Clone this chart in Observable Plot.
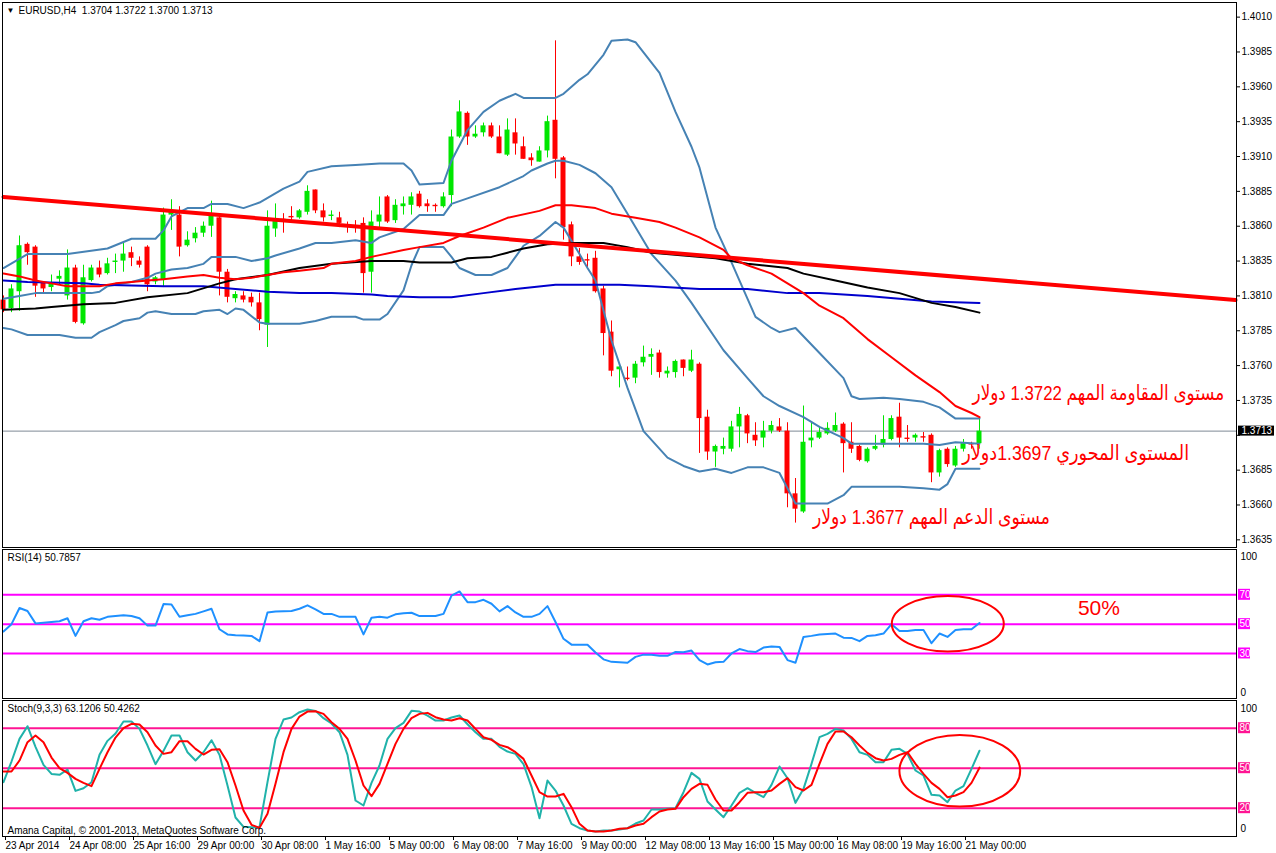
<!DOCTYPE html>
<html><head><meta charset="utf-8">
<script src="https://cdn.jsdelivr.net/npm/d3@7"></script>
<script src="https://cdn.jsdelivr.net/npm/@observablehq/plot@0.6"></script>
<style>
html,body{margin:0;padding:0;background:#fff;overflow:hidden;}
#chart{position:relative;width:1276px;height:853px;overflow:hidden;background:#fff;}
#chart svg{position:absolute;left:0;display:block;}
</style></head><body><div id="chart"></div>
<script>
// ---------- DATA ----------
const symbolTitle = "EURUSD,H4  1.3704 1.3722 1.3700 1.3713";
const opens = [1.3807,1.3801,1.3813,1.3847,1.3845,1.3819,1.3816,1.3822,1.3810,1.3830,1.3790,1.3821,1.3830,1.3826,1.3834,1.3835,1.3841,1.3835,1.3845,1.3820,1.3821,1.3868,1.3868,1.3846,1.3851,1.3855,1.3860,1.3866,1.3827,1.3808,1.3810,1.3809,1.3805,1.3789,1.3858,1.3865,1.3867,1.3866,1.3870,1.3886,1.3871,1.3867,1.3866,1.3861,1.3860,1.3862,1.3827,1.3863,1.3881,1.3864,1.3874,1.3875,1.3883,1.3876,1.3875,1.3874,1.3882,1.3924,1.3941,1.3924,1.3927,1.3932,1.3924,1.3911,1.3927,1.3917,1.3909,1.3906,1.3914,1.3936,1.3909,1.3861,1.3838,1.3836,1.3837,1.3815,1.3784,1.3757,1.3751,1.3751,1.3762,1.3766,1.3769,1.3754,1.3755,1.3764,1.3756,1.3761,1.3723,1.3698,1.3700,1.3700,1.3716,1.3724,1.3710,1.3708,1.3713,1.3716,1.3713,1.3668,1.3655,1.3706,1.3708,1.3711,1.3713,1.3718,1.3705,1.3702,1.3691,1.3700,1.3703,1.3707,1.3723,1.3708,1.3708,1.3709,1.3710,1.3683,1.3700,1.3688,1.3700,1.3704,1.3704];
const highs = [1.3810,1.3818,1.3853,1.3848,1.3846,1.3820,1.3825,1.3828,1.3843,1.3832,1.3832,1.3832,1.3835,1.3837,1.3840,1.3848,1.3845,1.3838,1.3846,1.3824,1.3873,1.3879,1.3874,1.3856,1.3859,1.3863,1.3878,1.3867,1.3829,1.3813,1.3813,1.3812,1.3812,1.3871,1.3876,1.3869,1.3874,1.3872,1.3889,1.3886,1.3876,1.3871,1.3870,1.3863,1.3864,1.3866,1.3871,1.3881,1.3882,1.3879,1.3881,1.3884,1.3885,1.3879,1.3876,1.3884,1.3929,1.3950,1.3942,1.3932,1.3934,1.3934,1.3932,1.3937,1.3937,1.3924,1.3912,1.3917,1.3939,1.3993,1.3910,1.3863,1.3844,1.3840,1.3842,1.3817,1.3792,1.3761,1.3759,1.3763,1.3774,1.3772,1.3771,1.3759,1.3764,1.3764,1.3771,1.3762,1.3728,1.3703,1.3708,1.3720,1.3730,1.3725,1.3719,1.3720,1.3720,1.3722,1.3719,1.3679,1.3731,1.3719,1.3716,1.3719,1.3726,1.3719,1.3719,1.3703,1.3701,1.3710,1.3724,1.3724,1.3733,1.3717,1.3711,1.3712,1.3711,1.3700,1.3701,1.3702,1.3707,1.3705,1.3722];
const lows = [1.3798,1.3798,1.3799,1.3832,1.3809,1.3812,1.3813,1.3818,1.3807,1.3790,1.3789,1.3820,1.3823,1.3825,1.3826,1.3827,1.3831,1.3830,1.3813,1.3818,1.3816,1.3857,1.3838,1.3845,1.3848,1.3852,1.3852,1.3810,1.3805,1.3805,1.3805,1.3802,1.3785,1.3773,1.3852,1.3855,1.3862,1.3865,1.3868,1.3869,1.3863,1.3864,1.3859,1.3855,1.3855,1.3812,1.3812,1.3859,1.3862,1.3862,1.3868,1.3868,1.3873,1.3870,1.3870,1.3873,1.3874,1.3923,1.3918,1.3923,1.3924,1.3923,1.3912,1.3910,1.3911,1.3908,1.3903,1.3906,1.3909,1.3894,1.3850,1.3831,1.3832,1.3830,1.3812,1.3767,1.3752,1.3744,1.3749,1.3747,1.3759,1.3753,1.3751,1.3751,1.3751,1.3752,1.3755,1.3697,1.3692,1.3687,1.3696,1.3698,1.3701,1.3704,1.3702,1.3701,1.3711,1.3712,1.3658,1.3647,1.3654,1.3701,1.3707,1.3710,1.3712,1.3683,1.3697,1.3691,1.3690,1.3699,1.3701,1.3706,1.3701,1.3705,1.3705,1.3705,1.3676,1.3680,1.3687,1.3687,1.3698,1.3700,1.3700];
const closes = [1.3800,1.3815,1.3846,1.3841,1.3817,1.3815,1.3819,1.3824,1.3830,1.3791,1.3823,1.3830,1.3825,1.3833,1.3835,1.3840,1.3837,1.3832,1.3818,1.3823,1.3868,1.3871,1.3845,1.3850,1.3855,1.3860,1.3868,1.3827,1.3809,1.3811,1.3807,1.3805,1.3793,1.3860,1.3865,1.3863,1.3866,1.3871,1.3885,1.3871,1.3866,1.3868,1.3862,1.3860,1.3859,1.3826,1.3863,1.3868,1.3863,1.3875,1.3876,1.3881,1.3874,1.3874,1.3874,1.3881,1.3924,1.3942,1.3924,1.3926,1.3932,1.3924,1.3912,1.3929,1.3919,1.3908,1.3907,1.3914,1.3935,1.3908,1.3859,1.3838,1.3834,1.3835,1.3813,1.3783,1.3756,1.3759,1.3750,1.3761,1.3766,1.3768,1.3755,1.3756,1.3763,1.3758,1.3764,1.3722,1.3698,1.3702,1.3702,1.3716,1.3725,1.3711,1.3706,1.3713,1.3717,1.3713,1.3668,1.3657,1.3705,1.3708,1.3712,1.3715,1.3717,1.3704,1.3700,1.3692,1.3700,1.3702,1.3707,1.3722,1.3708,1.3707,1.3710,1.3708,1.3683,1.3699,1.3689,1.3700,1.3704,1.3703,1.3713];

// Bollinger bands and moving averages (bar index, price)
const bbUpperIdx = [0,3,8,13,16,19,20,21,23,25,26,28,30,32,35,37,38,41,44,47,50,51,52,55,56,58,60,62,64,65,67,69,70,72,73,74,75,76,78,79,82,84,86,87,89,91,92,94,96,97,99,102,105,106,107,110,112,115,117,119,122];
const bbUpperVal = [1.3830,1.3840,1.3840,1.3844,1.3851,1.3851,1.3857,1.3867,1.3873,1.3873,1.3876,1.3876,1.3873,1.3877,1.3887,1.3892,1.3899,1.3903,1.3904,1.3905,1.3905,1.3900,1.3890,1.3891,1.3907,1.3929,1.3942,1.3950,1.3955,1.3952,1.3952,1.3952,1.3955,1.3965,1.3969,1.3976,1.3983,1.3993,1.3994,1.3992,1.3970,1.3942,1.3917,1.3902,1.3859,1.3834,1.3821,1.3795,1.3787,1.3784,1.3787,1.3769,1.3751,1.3738,1.3736,1.3737,1.3736,1.3734,1.3730,1.3722,1.3722];
const bbMidIdx = [0,2,4,8,11,12,13,15,16,18,19,21,23,25,26,29,31,33,34,37,39,41,44,46,47,50,52,55,56,58,62,65,66,68,69,70,72,74,76,78,81,84,86,90,93,95,97,100,102,105,106,115,117,119,122];
const bbMidVal = [1.3808,1.3810,1.3812,1.3812,1.3812,1.3813,1.3817,1.3819,1.3820,1.3823,1.3826,1.3829,1.3830,1.3833,1.3838,1.3838,1.3835,1.3837,1.3839,1.3844,1.3848,1.3848,1.3850,1.3848,1.3852,1.3858,1.3868,1.3868,1.3876,1.3880,1.3888,1.3896,1.3900,1.3905,1.3907,1.3907,1.3904,1.3898,1.3888,1.3869,1.3840,1.3821,1.3805,1.3771,1.3751,1.3738,1.3731,1.3723,1.3716,1.3708,1.3704,1.3704,1.3703,1.3705,1.3704];
const bbLowIdx = [0,1,3,7,9,11,12,14,15,17,18,19,21,24,25,27,28,29,30,32,33,37,39,41,44,45,47,48,50,51,52,55,56,57,59,61,63,64,65,67,69,70,72,73,74,76,78,80,83,85,87,89,91,93,95,97,99,102,103,105,106,112,115,117,118,119,122];
const bbLowVal = [1.3787,1.3786,1.3782,1.3782,1.3780,1.3780,1.3784,1.3789,1.3792,1.3794,1.3798,1.3799,1.3797,1.3797,1.3799,1.3800,1.3797,1.3801,1.3800,1.3791,1.3790,1.3790,1.3792,1.3795,1.3795,1.3793,1.3793,1.3797,1.3814,1.3832,1.3845,1.3845,1.3838,1.3830,1.3825,1.3825,1.3830,1.3838,1.3846,1.3853,1.3863,1.3859,1.3840,1.3830,1.3821,1.3778,1.3744,1.3713,1.3694,1.3688,1.3684,1.3686,1.3683,1.3687,1.3687,1.3683,1.3661,1.3661,1.3661,1.3667,1.3673,1.3673,1.3672,1.3671,1.3675,1.3686,1.3686];
const redMaIdx = [0,2,4,6,8,10,12,14,16,18,20,23,25,27,29,31,33,35,37,40,41,44,46,50,52,55,57,60,63,67,69,71,74,76,79,82,84,87,90,91,93,96,98,100,102,105,108,111,114,117,119,121,122];
const redMaVal = [1.3826,1.3824,1.3821,1.3819,1.3817,1.3817,1.3817,1.3819,1.3820,1.3821,1.3822,1.3824,1.3825,1.3823,1.3822,1.3823,1.3825,1.3827,1.3828,1.3830,1.3833,1.3835,1.3838,1.3843,1.3845,1.3848,1.3853,1.3859,1.3866,1.3871,1.3875,1.3875,1.3873,1.3869,1.3866,1.3863,1.3859,1.3852,1.3843,1.3837,1.3832,1.3826,1.3819,1.3812,1.3803,1.3794,1.3779,1.3766,1.3753,1.3741,1.3731,1.3726,1.3723];
const blackMaIdx = [0,4,6,10,14,18,23,27,29,33,37,41,46,50,52,56,58,61,63,65,68,71,75,78,81,85,89,93,98,100,104,108,112,116,119,122];
const blackMaVal = [1.3800,1.3801,1.3802,1.3804,1.3805,1.3809,1.3812,1.3819,1.3822,1.3825,1.3830,1.3833,1.3835,1.3835,1.3834,1.3834,1.3837,1.3838,1.3841,1.3844,1.3847,1.3848,1.3848,1.3845,1.3841,1.3839,1.3837,1.3833,1.3830,1.3826,1.3821,1.3816,1.3812,1.3805,1.3802,1.3798];
const blueMaIdx = [0,3,10,12,20,25,29,33,37,41,46,48,52,56,60,64,69,74,77,81,87,93,98,102,108,112,116,122];
const blueMaVal = [1.3821,1.3820,1.3819,1.3818,1.3817,1.3817,1.3815,1.3813,1.3812,1.3812,1.3811,1.3810,1.3809,1.3809,1.3812,1.3815,1.3818,1.3818,1.3818,1.3817,1.3815,1.3815,1.3812,1.3812,1.3810,1.3808,1.3806,1.3805];
const trendIdx = [0, 154];
const trendVal = [1.3881, 1.3807];
const currentPrice = 1.3713;
const priceTicks = [1.3635,1.3660,1.3685,1.3710,1.3735,1.3760,1.3785,1.3810,1.3835,1.3860,1.3885,1.3910,1.3935,1.3960,1.3985,1.4010];

const rsiTitle = "RSI(14) 50.7857";
const rsi = [45,50,61,59,50.5,51,51.5,52,54,42,52,54,53,55,55.5,56,55.5,54,49,49,63.7,63.4,55,56,57,58.7,60.5,46.5,43,42.4,42.2,42,38.4,58,58.7,58.8,59,60.5,62.8,60,57,57,55,55,55,43,54.4,55,54.4,56.7,57.5,57.8,55.5,55.5,55.5,57,69.5,72.3,65,65,66.6,63.9,58.7,62.3,58,55,55,57,62.3,51.5,40,36,36,36,30.7,26,24.3,24,23.7,27.7,29.2,29.2,28.4,28.4,31,30.8,32,25.5,22.5,24,24.3,30,33,31.6,31,34,34.7,34.5,25.5,23.7,41.3,42,43,43.3,43.6,40.8,40.6,38.4,42,42.4,43.6,50,45.4,45.4,46,46,37,43.6,41.3,46,46.5,46.5,50.8];
const rsiLevels = [70, 50, 30];

const stochTitle = "Stoch(9,3,3) 63.1206 50.4262";
const stochK = [39.5,55,72,81.5,66,52.5,45.7,45,49,33,35,39.5,60,70.5,76,85,85,79.5,67,53,63,74.5,74.5,62,55.75,62,71,60,37,13,6,5.75,5.75,39.5,72,86.5,88,92,94,93,87.5,83.5,77,60,25.75,22,39,52,72,80,84,93,92.5,89.5,85.75,85.75,88,89.5,83,77,72,72,66,62.5,60.75,53,36,12.5,40.75,33.25,22,8.25,5,3.25,2.5,3.25,3.25,4,5,8.5,10.75,19,19,19.5,20,32,46.5,42,25,19,13.25,22,31.5,35,31.5,28.25,37.5,51.25,42.5,24,34.5,53.25,73.25,75.75,79.5,78.25,72,62,60,54.5,54.5,63.75,64.5,60.75,48.25,44.5,30,29.5,24.5,33.25,36.5,49.5,63.1];
const stochD = [47.5,47.5,55.75,69.5,74.5,69.5,58,50,46.5,42,39,36.5,49.5,62,73,80,83.25,82.75,77,67,60.75,62,70.25,70.25,64.5,60.25,63.75,64.25,54.5,37,18.25,7.5,5.25,15.75,38.25,62,79.5,88.75,92.5,92.75,90.75,84.5,79.5,72,55.75,37,29,38.25,53.25,68.25,79.5,87.5,90.75,91.5,88.25,86.5,85.75,87.5,85.75,79.5,73.25,71.25,67.5,65.75,62,57,44.5,32,28.75,28.75,30.75,20.75,8.25,3.25,2.5,2.5,3.25,4.5,5,7,8.25,13.25,17.5,19,19.5,28.25,34.5,38.25,37.5,26.5,18.25,18.25,24.5,31.5,32,32,33.25,38.25,42.5,35.75,33.25,37.5,53.25,68.25,77.5,77.5,73.25,67,61.5,57.5,55.75,57,60,62,53.25,45.75,39,34.5,28.25,29.5,32,39,50.4];
const stochLevels = [80, 50, 20];

const timeLabelIdx = [0,8,16,24,32,40,48,56,64,72,80,88,96,104,112,120];
const timeLabels = ["23 Apr 2014","24 Apr 08:00","25 Apr 16:00","29 Apr 00:00","30 Apr 08:00","1 May 16:00","5 May 00:00","6 May 08:00","7 May 16:00","9 May 00:00","12 May 08:00","13 May 16:00","15 May 00:00","16 May 08:00","19 May 16:00","21 May 00:00"];

const noteResistance = "مستوى المقاومة المهم 1.3722 دولار";
const notePivot = "المستوى المحوري 1.3697دولار";
const noteSupport = "مستوى الدعم المهم 1.3677 دولار";
const noteRsi = "50%";
const copyright = "Amana Capital, © 2001-2013, MetaQuotes Software Corp.";

// ---------- helpers ----------
const pairs = (idx, val) => idx.map((i, k) => ({i, v: val[k]}));
const candles = opens.map((o, i) => ({i, o, h: highs[i], l: lows[i], c: closes[i]}));
const bull = "#00E600", bear = "#FF0000";
const colorOf = d => d.c >= d.o ? bull : bear;
const xDomain = [-0.125, 154.125];   // x pixel = 3 + 8*i, frame 2..1236
const W = 1276;
const uiFont = "Liberation Sans, Arial, sans-serif";
const arFont = "Liberation Sans, DejaVu Sans, sans-serif";
const root = document.getElementById("chart");

function ellipseMark(ci, cv, ri, rv) {
  return (index, scales, values, dimensions, context) => {
    const doc = (context && context.document) || document;
    const e = doc.createElementNS("http://www.w3.org/2000/svg", "ellipse");
    const px = scales.x(ci), py = scales.y(cv);
    e.setAttribute("cx", px); e.setAttribute("cy", py);
    e.setAttribute("rx", Math.abs(scales.x(ci + ri) - px));
    e.setAttribute("ry", Math.abs(scales.y(cv + rv) - py));
    e.setAttribute("fill", "none"); e.setAttribute("stroke", "#FF0000"); e.setAttribute("stroke-width", 2);
    return e;
  };
}
function levelBox(levels, color, domMax) {
  return [
    Plot.rect(levels, {x1: domMax, x2: domMax, y1: d => d, y2: d => d, insetLeft: 2, insetRight: -14, insetTop: -5.5, insetBottom: -5.5, fill: color}),
    Plot.text(levels, {x: domMax, y: d => d, text: d => String(d), dx: 3, textAnchor: "start", fill: "white", fontSize: 10, fontFamily: uiFont})
  ];
}
// squeeze a text horizontally (about its right-hand anchor) to the width seen in the reference
function fitText(svg, content, width) {
  svg.querySelectorAll("text").forEach(t => {
    if (t.textContent !== content) return;
    const len = t.getComputedTextLength();
    if (!(len > 0)) return;
    const s = Math.min(1, width / len);
    let tr = t.getAttribute("transform");
    if (!tr) {
      const x = +t.getAttribute("x") || 0, y = +t.getAttribute("y") || 0;
      t.removeAttribute("x"); t.removeAttribute("y");
      tr = `translate(${x},${y})`;
    }
    t.setAttribute("transform", `${tr} scale(${s},1)`);
  });
}

// ---------- MAIN PRICE PANEL ----------
const main = Plot.plot({
  width: W, height: 549,
  marginLeft: 2, marginRight: 40, marginTop: 2, marginBottom: 2,
  x: {domain: xDomain, axis: null},
  y: {domain: [1.36295, 1.40205], axis: null},
  style: {fontFamily: uiFont, fontSize: "10px", background: "transparent", overflow: "visible"},
  marks: [
    Plot.ruleY([currentPrice], {stroke: "#7f8a95", strokeWidth: 1}),
    Plot.ruleX(candles, {x: "i", y1: "l", y2: "h", stroke: colorOf, strokeWidth: 1}),
    Plot.rect(candles, {x1: d => d.i - 0.3125, x2: d => d.i + 0.3125, y1: "o", y2: "c", fill: colorOf}),
    Plot.ruleY(candles.filter(d => Math.abs(d.c - d.o) < 0.00006), {y: "c", x1: d => d.i - 0.3125, x2: d => d.i + 0.3125, stroke: colorOf, strokeWidth: 1.5}),
    Plot.line(pairs(bbUpperIdx, bbUpperVal), {x: "i", y: "v", stroke: "#4682B4", strokeWidth: 2}),
    Plot.line(pairs(bbMidIdx, bbMidVal), {x: "i", y: "v", stroke: "#4682B4", strokeWidth: 2}),
    Plot.line(pairs(bbLowIdx, bbLowVal), {x: "i", y: "v", stroke: "#4682B4", strokeWidth: 2}),
    Plot.line(pairs(blueMaIdx, blueMaVal), {x: "i", y: "v", stroke: "#0000CD", strokeWidth: 2}),
    Plot.line(pairs(blackMaIdx, blackMaVal), {x: "i", y: "v", stroke: "#000000", strokeWidth: 2}),
    Plot.line(pairs(redMaIdx, redMaVal), {x: "i", y: "v", stroke: "#FF0000", strokeWidth: 2}),
    Plot.line(pairs(trendIdx, trendVal), {x: "i", y: "v", stroke: "#FF0000", strokeWidth: 4}),
    Plot.axisY({anchor: "right", label: null, ticks: priceTicks, tickFormat: d => Math.abs(d - currentPrice) < 0.0005 ? "" : d.toFixed(4), tickSize: 3, tickPadding: 2, fontSize: 10, fontFamily: uiFont}),
    Plot.rect([currentPrice], {x1: xDomain[1], x2: xDomain[1], y1: d => d, y2: d => d, insetLeft: 2, insetRight: -38, insetTop: -5, insetBottom: -5, fill: "black"}),
    Plot.text([currentPrice], {x: xDomain[1], y: d => d, text: d => d.toFixed(4), dx: 5, textAnchor: "start", fill: "white", fontSize: 10, fontFamily: uiFont}),
    Plot.frame({stroke: "black"}),
    Plot.text(["▼"], {frameAnchor: "top-left", dx: 4, dy: 5, fontSize: 8, fill: "black", textAnchor: "start", lineAnchor: "top"}),
    Plot.text([symbolTitle], {frameAnchor: "top-left", dx: 16, dy: 4, fontSize: 10, fill: "black", textAnchor: "start", lineAnchor: "top", fontFamily: uiFont}),
    Plot.text([noteResistance], {x: () => 152.6, y: () => 1.37405, text: d => d, textAnchor: "end", fill: "#FF0000", fontSize: 21, fontFamily: arFont}),
    Plot.text([notePivot], {x: () => 148.2, y: () => 1.36969, text: d => d, textAnchor: "end", fill: "#FF0000", fontSize: 21, fontFamily: arFont}),
    Plot.text([noteSupport], {x: () => 130.8, y: () => 1.36510, text: d => d, textAnchor: "end", fill: "#FF0000", fontSize: 21, fontFamily: arFont})
  ]
});
main.style.top = "0px";
root.appendChild(main);
fitText(main, noteResistance, 252);
fitText(main, notePivot, 227);
fitText(main, noteSupport, 237);

// ---------- RSI PANEL ----------
const rsiData = rsi.map((v, i) => ({i, v}));
const rsiPlot = Plot.plot({
  width: W, height: 150,
  marginLeft: 2, marginRight: 40, marginTop: 0, marginBottom: 1,
  x: {domain: xDomain, axis: null},
  y: {domain: [-0.7, 100.9], axis: null},
  style: {fontFamily: uiFont, fontSize: "10px", background: "transparent", overflow: "visible"},
  marks: [
    Plot.ruleY(rsiLevels, {stroke: "#FF00FF", strokeWidth: 2}),
    Plot.line(rsiData, {x: "i", y: "v", stroke: "#1E90FF", strokeWidth: 2}),
    ellipseMark(118.1, 49.9, 7.0, 18.95),
    Plot.text([noteRsi], {x: () => 134.3, y: () => 60.7, text: d => d, textAnchor: "start", fill: "#FF0000", fontSize: 21, fontFamily: uiFont}),
    Plot.axisY({anchor: "right", label: null, ticks: [100], tickSize: 0, tickPadding: 4, dy: 6, fontSize: 10, fontFamily: uiFont}),
    Plot.axisY({anchor: "right", label: null, ticks: [0], tickSize: 0, tickPadding: 4, dy: -5, fontSize: 10, fontFamily: uiFont}),
    ...levelBox(rsiLevels, "#FF00FF", xDomain[1]),
    Plot.frame({stroke: "black"}),
    Plot.text([rsiTitle], {frameAnchor: "top-left", dx: 5, dy: 4, fontSize: 10, fill: "black", textAnchor: "start", lineAnchor: "top", fontFamily: uiFont})
  ]
});
rsiPlot.style.top = "549px";
root.appendChild(rsiPlot);

// ---------- STOCHASTIC PANEL ----------
const kData = stochK.map((v, i) => ({i, v}));
const dData = stochD.map((v, i) => ({i, v}));
const stochPlot = Plot.plot({
  width: W, height: 153,
  marginLeft: 2, marginRight: 40, marginTop: 0, marginBottom: 17,
  x: {domain: xDomain, axis: null},
  y: {domain: [-1.24, 100.78], axis: null},
  style: {fontFamily: uiFont, fontSize: "10px", background: "transparent", overflow: "visible"},
  marks: [
    Plot.ruleY(stochLevels, {stroke: "#FF1493", strokeWidth: 2}),
    Plot.line(kData, {x: "i", y: "v", stroke: "#20B2AA", strokeWidth: 2}),
    Plot.line(dData, {x: "i", y: "v", stroke: "#FF0000", strokeWidth: 2}),
    ellipseMark(119.6, 47.7, 7.55, 26.9),
    Plot.axisY({anchor: "right", label: null, ticks: [100], tickSize: 0, tickPadding: 4, dy: 7, fontSize: 10, fontFamily: uiFont}),
    Plot.axisY({anchor: "right", label: null, ticks: [0], tickSize: 0, tickPadding: 4, dy: -6, fontSize: 10, fontFamily: uiFont}),
    ...levelBox(stochLevels, "#FF1493", xDomain[1]),
    Plot.axisX({anchor: "bottom", label: null, ticks: timeLabelIdx, tickFormat: d => timeLabels[timeLabelIdx.indexOf(d)], tickSize: 4, tickPadding: 1, textAnchor: "start", dx: 2, fontSize: 10, fontFamily: uiFont}),
    Plot.frame({stroke: "black"}),
    Plot.text([stochTitle], {frameAnchor: "top-left", dx: 5, dy: 4, fontSize: 10, fill: "black", textAnchor: "start", lineAnchor: "top", fontFamily: uiFont}),
    Plot.text([copyright], {frameAnchor: "bottom-left", dx: 5, dy: -3, fontSize: 10, fill: "black", textAnchor: "start", lineAnchor: "bottom", fontFamily: uiFont})
  ]
});
stochPlot.style.top = "700px";
root.appendChild(stochPlot);
</script>
</body></html>
